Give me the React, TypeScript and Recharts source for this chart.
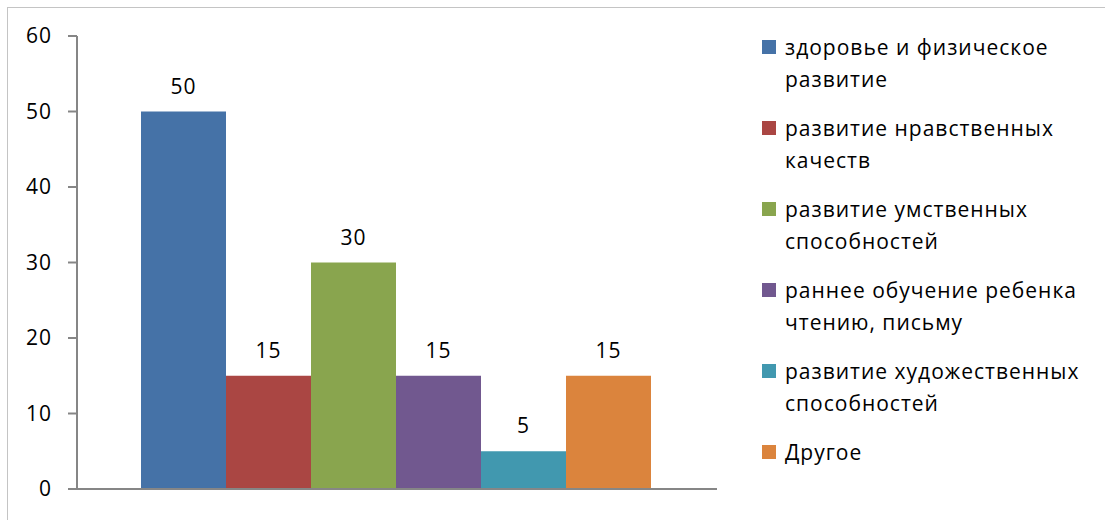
import { BarChart, Bar, XAxis, YAxis, Legend, LabelList } from "recharts";

const seriesNames = [
  "здоровье и физическое развитие",
  "развитие нравственных качеств",
  "развитие умственных способностей",
  "раннее обучение ребенка чтению, письму",
  "развитие художественных способностей",
  "Другое",
];
const seriesValues = [50, 15, 30, 15, 5, 15];
const seriesColors = ["#4572A7", "#AA4643", "#89A54E", "#71588F", "#4198AF", "#DB843D"];
const yTicks = [0, 10, 20, 30, 40, 50, 60];

const keys = seriesNames.map((_, i) => `s${i}`);
const row: Record<string, number | string> = { name: "" };
keys.forEach((k, i) => {
  row[k] = seriesValues[i];
});
const data = [row];

const FONT = "'Open Sans', sans-serif";
const AXIS = "#868686";
const textStyle = { fill: "#000", fontSize: 21, fontFamily: FONT, letterSpacing: 1 };

const LegendBox = () => (
  <div style={{ fontFamily: FONT, fontSize: 21, letterSpacing: 1, color: "#000" }}>
    {seriesNames.map((name, i) => (
      <div key={name} style={{ display: "flex", alignItems: "flex-start", marginBottom: 17 }}>
        <span
          style={{
            width: 14,
            height: 14,
            background: seriesColors[i],
            marginTop: 9,
            marginRight: 9,
            flex: "none",
          }}
        />
        <span style={{ lineHeight: "32px", width: 312 }}>{name}</span>
      </div>
    ))}
  </div>
);

export default function App() {
  return (
    <div
      style={{
        position: "fixed",
        left: 7,
        top: 7,
        width: 1098,
        height: 513,
        borderTop: "1px solid #c4c4c4",
        borderLeft: "1px solid #c4c4c4",
        background: "#fff",
      }}
    >
      <BarChart
        width={1097}
        height={512}
        data={data}
        margin={{ top: 28, right: 388, bottom: 29, left: 0 }}
        barCategoryGap="10%"
        barGap={0}
      >
        <XAxis
          dataKey="name"
          height={1}
          tick={false}
          tickLine={false}
          axisLine={{ stroke: AXIS, strokeWidth: 2 }}
        />
        <XAxis
          xAxisId="edge"
          type="number"
          domain={[0, 1]}
          ticks={[0, 1]}
          height={1}
          tick={false}
          tickSize={8}
          tickLine={{ stroke: AXIS, strokeWidth: 2 }}
          axisLine={false}
        />
        <YAxis
          width={69}
          domain={[0, 60]}
          ticks={yTicks}
          interval={0}
          tickSize={9}
          tickMargin={16}
          axisLine={{ stroke: AXIS, strokeWidth: 2 }}
          tickLine={{ stroke: AXIS, strokeWidth: 2 }}
          tick={textStyle}
        />
        <Legend
          layout="horizontal"
          verticalAlign="middle"
          align="center"
          content={<LegendBox />}
          wrapperStyle={{ left: 754, top: 23, width: 340 }}
        />
        {keys.map((k, i) => (
          <Bar key={k} dataKey={k} name={seriesNames[i]} fill={seriesColors[i]} isAnimationActive={false}>
            <LabelList dataKey={k} position="top" offset={18} style={textStyle} />
          </Bar>
        ))}
      </BarChart>
    </div>
  );
}
